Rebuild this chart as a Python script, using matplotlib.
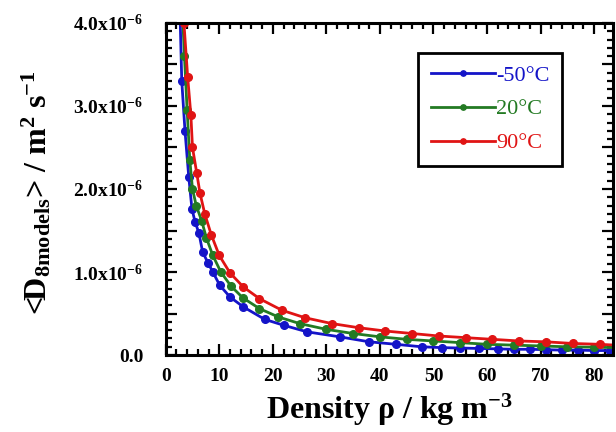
import numpy as np
import matplotlib
matplotlib.use('Agg')
import matplotlib.pyplot as plt
from matplotlib.ticker import MultipleLocator, FuncFormatter

plt.rcParams['font.family'] = ['Liberation Serif', 'DejaVu Serif']
plt.rcParams['mathtext.fontset'] = 'custom'
plt.rcParams['mathtext.rm'] = 'Liberation Serif:bold'
plt.rcParams['mathtext.bf'] = 'Liberation Serif:bold'
plt.rcParams['mathtext.it'] = 'Liberation Serif:bold'
plt.rcParams['mathtext.default'] = 'bf'

# density in kg m^-3, diffusion coefficient in 1e-6 m^2 s^-1
rho_m50 = [2.6, 3.0, 3.6, 4.3, 4.9, 5.5, 6.2, 6.9, 7.9, 8.8, 10.1, 12.0, 14.5, 18.5,
           22.0, 26.4, 32.5, 38.0, 43.0, 47.8, 51.6, 55.0, 58.5, 62.0, 65.0, 68.0,
           71.0, 74.0, 77.0, 80.0, 83.0]
d_m50 = [4.3, 3.3, 2.7, 2.15, 1.76, 1.6, 1.47, 1.24, 1.11, 1.0, 0.84, 0.70, 0.58, 0.43,
         0.36, 0.28, 0.22, 0.16, 0.13, 0.10, 0.09, 0.085, 0.08, 0.075, 0.07, 0.07,
         0.065, 0.06, 0.06, 0.055, 0.055]

rho_20 = [3.0, 3.5, 4.0, 4.5, 5.0, 5.7, 6.7, 7.6, 8.8, 10.3, 12.2, 14.4, 17.5, 21.0,
          25.0, 30.0, 35.0, 40.0, 45.0, 50.0, 55.0, 60.0, 65.0, 70.0, 75.0, 80.0, 84.0]
d_20 = [4.3, 3.6, 2.95, 2.35, 2.0, 1.8, 1.62, 1.41, 1.2, 1.0, 0.83, 0.69, 0.56, 0.46,
        0.38, 0.31, 0.26, 0.22, 0.19, 0.17, 0.15, 0.13, 0.12, 0.11, 0.10, 0.095, 0.09]

rho_90 = [3.4, 4.1, 4.7, 5.0, 5.8, 6.4, 7.3, 8.5, 10.0, 12.0, 14.5, 17.5, 21.7, 26.0,
          31.0, 36.0, 41.0, 46.0, 51.0, 56.0, 61.0, 66.0, 71.0, 76.0, 81.0, 84.0]
d_90 = [4.0, 3.35, 2.89, 2.5, 2.19, 1.95, 1.7, 1.45, 1.2, 0.99, 0.82, 0.68, 0.54, 0.45,
        0.38, 0.33, 0.29, 0.26, 0.23, 0.21, 0.19, 0.17, 0.16, 0.14, 0.13, 0.12]

labels = ['-50°C', '20°C', '90°C']
colors = ['#1414c8', '#237a23', '#e01414']

fig = plt.figure(figsize=(6.16, 4.32), dpi=100)
ax = fig.add_axes([0.269, 0.178, 0.726, 0.769])

series = [(rho_m50, d_m50), (rho_20, d_20), (rho_90, d_90)]
for (x, y), lab, c in zip(series, labels, colors):
    ax.plot(x, np.array(y) * 1e-6, '-o', color=c, lw=2, ms=5.5, label=lab)

ax.set_xlim(0, 83.5)
ax.set_ylim(0, 4.0e-6)

ax.xaxis.set_major_locator(MultipleLocator(10))
ax.xaxis.set_minor_locator(MultipleLocator(2))
ax.yaxis.set_major_locator(MultipleLocator(0.5e-6))
ax.yaxis.set_minor_locator(MultipleLocator(0.1e-6))


def yfmt(v, pos):
    n = v * 1e6
    if abs(n) < 1e-9:
        return '0.0'
    if abs(n - round(n)) > 1e-6:
        return ''
    return '%.1fx10$^{-6}\\ \\ \\ $' % n


ax.yaxis.set_major_formatter(FuncFormatter(yfmt))
ax.tick_params(which='both', direction='in', top=True, right=True, width=1.6)
ax.tick_params(which='major', length=8, labelsize=14)
ax.tick_params(axis='y', which='major', pad=16)
ax.tick_params(axis='x', which='major', pad=9)
ax.tick_params(which='minor', length=4)
for lbl in ax.get_xticklabels() + ax.get_yticklabels():
    lbl.set_fontweight('bold')
for s in ax.spines.values():
    s.set_linewidth(2.2)

ax.set_xlabel('Density ρ / kg m$^{-3}$', fontsize=23, fontweight='bold', va='top')
ax.xaxis.set_label_coords(0.5, -0.11)
ax.set_ylabel('<D$_{8models}$> / m$^{2}$ s$^{-1}$', fontsize=23, fontweight='bold')
ax.yaxis.set_label_coords(-0.25, 0.49)

leg = ax.legend(loc='upper right', bbox_to_anchor=(0.886, 0.91), fontsize=16,
                handlelength=2.9, labelspacing=0.6, markerscale=0.7,
                fancybox=False, edgecolor='black', framealpha=1, borderpad=0.55,
                handletextpad=0.05, borderaxespad=0)
leg.get_frame().set_linewidth(2)
for t, c in zip(leg.get_texts(), colors):
    t.set_color(c)

fig.savefig('out.png', dpi=100)
